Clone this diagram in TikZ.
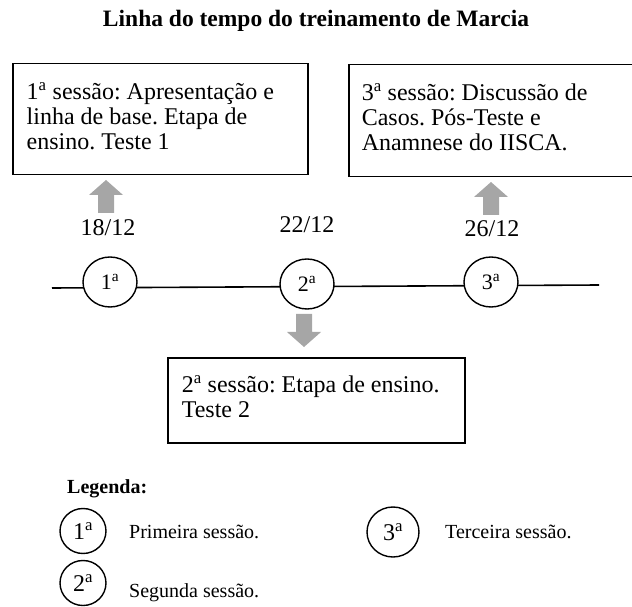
\documentclass[tikz,border=0pt]{standalone}
\usepackage{fontspec}
\setmainfont{Liberation Serif}
\usetikzlibrary{shapes.geometric}
\definecolor{arrowgray}{RGB}{166,166,166}
\newcommand{\fs}[2]{\fontsize{#1}{#2}\selectfont}
\newcommand{\ptext}[3]{\parbox[t][#2][t]{#1}{\raggedright\frenchspacing\strut #3}}
\frenchspacing
\begin{document}
\begin{tikzpicture}[x=1pt,y=1pt,
  box/.style={draw=black, line width=1.5pt, anchor=north west, inner xsep=14pt, inner ysep=18.5pt, font=\fs{24}{25}},
  sess/.style={ellipse, draw=black, line width=1.4pt, fill=white, inner sep=0pt, minimum width=54pt, minimum height=50pt, font=\fs{22}{22}},
  leg/.style={ellipse, draw=black, line width=1.4pt, inner sep=0pt, minimum width=46pt, minimum height=45pt, font=\fs{24}{24}},
  datelbl/.style={font=\fs{24}{24}, anchor=base, inner sep=0pt},
  legtxt/.style={font=\fs{20}{20}, anchor=base west, inner sep=0pt},
  tline/.style={line width=1.6pt},
  uparrow/.pic={\fill[arrowgray] (-8,0) -- (8,0) -- (8,18) -- (17,18) -- (0,33) -- (-17,18) -- (-8,18) -- cycle;}
]
\useasboundingbox (0,0) rectangle (632,606);
\clip (0,0) rectangle (632,606);
% title
\node[font=\bfseries\fs{23.5}{23.5}, anchor=base, inner sep=0pt] (title) at (316,579) {Linha do tempo do treinamento de Marcia};
% boxes
\node[box] (b1) at (12,543) {\ptext{267pt}{74pt}{1\textsuperscript{a} sessão: Apresentação e\\linha de base. Etapa de\\ensino. Teste 1}};
\node[box, inner xsep=13pt] (b3) at (348,542) {\ptext{270pt}{75pt}{3\textsuperscript{a} sessão: Discussão de\\Casos. Pós-Teste e\\Anamnese do IISCA.}};
\node[box, inner ysep=17.5pt] (b2) at (167,249) {\ptext{269pt}{50pt}{2\textsuperscript{a} sessão: Etapa de ensino.\\Teste 2}};
% arrows
\pic at (106,393) {uparrow};
\pic at (491,391) {uparrow};
\pic[rotate=180] at (304,292) {uparrow};
% dates
\node[datelbl] (d1) at (108,370) {18/12};
\node[datelbl] (d2) at (307,373) {22/12};
\node[datelbl] (d3) at (492,369) {26/12};
% timeline
\coordinate (tl0) at (52,318);
\coordinate (tl1) at (599,321);
\draw[tline] (tl0) -- (tl1);
\node[sess] (s1) at (110,324) {1\textsuperscript{a}};
\node[sess] (s2) at (307,322) {2\textsuperscript{a}};
\node[sess] (s3) at (491,324) {3\textsuperscript{a}};
% legend
\node[font=\bfseries\fs{20}{20}, anchor=base west, inner sep=0pt] (lg) at (67,113) {Legenda:};
\node[leg] (l1) at (83,75) {1\textsuperscript{a}};
\node[leg, minimum width=52pt, minimum height=50pt] (l3) at (393,74) {3\textsuperscript{a}};
\node[leg] (l2) at (83,23) {2\textsuperscript{a}};
\node[legtxt] (t1) at (129,68) {Primeira sessão.};
\node[legtxt] (t3) at (445,68) {Terceira sessão.};
\node[legtxt] (t2) at (129,9) {Segunda sessão.};
\end{tikzpicture}
\end{document}
